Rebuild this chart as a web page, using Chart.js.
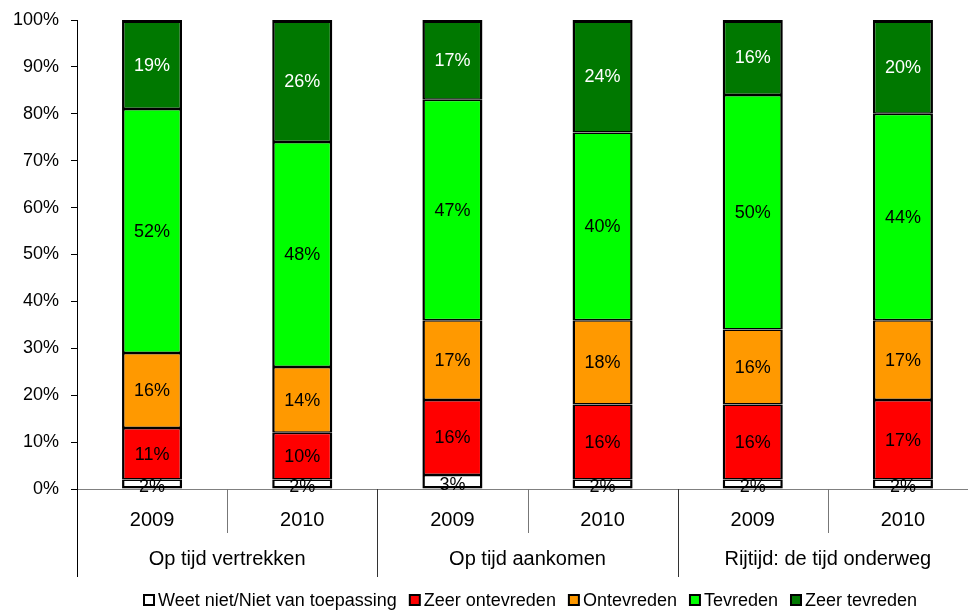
<!DOCTYPE html>
<html>
<head>
<meta charset="utf-8">
<script src="https://cdn.jsdelivr.net/npm/chart.js@4/dist/chart.umd.min.js"></script>
<style>
    html, body { margin: 0; padding: 0; overflow: hidden; background: #fff; }
    #wrap { width: 990px; height: 612px; }
</style>
</head>
<body>
<div id="wrap"><canvas id="grafico"></canvas></div>
<script>
// jaren per balk en de drie groepen eronder
const jaren = ['2009', '2010', '2009', '2010', '2009', '2010'];
const groepen = ['Op tijd vertrekken', 'Op tijd aankomen', 'Rijtijd: de tijd onderweg'];

// percentages per antwoordcategorie (van onder naar boven)
const weetNiet       = [2, 2, 3, 2, 2, 2];
const zeerOntevreden = [11, 10, 16, 16, 16, 17];
const ontevreden     = [16, 14, 17, 18, 16, 17];
const tevreden       = [52, 48, 47, 40, 50, 44];
const zeerTevreden   = [19, 26, 17, 24, 16, 20];

const yTicks = [0, 10, 20, 30, 40, 50, 60, 70, 80, 90, 100];

const FONT = '"Liberation Sans", Arial, sans-serif';

function serie(label, data, kleur, tekstKleur, rand) {
    return {
        label: label,
        data: data,
        backgroundColor: kleur,
        borderColor: '#000',
        borderWidth: rand,
        borderSkipped: false,
        barPercentage: 0.4,
        categoryPercentage: 1.0,
        labelColor: tekstKleur
    };
}

// percentages in de balken
const labelsPlugin = {
    id: 'balkLabels',
    afterDatasetsDraw(chart) {
        const ctx = chart.ctx;
        ctx.save();
        ctx.font = '18px ' + FONT;
        ctx.textAlign = 'center';
        ctx.textBaseline = 'middle';
        chart.data.datasets.forEach((ds, i) => {
            const meta = chart.getDatasetMeta(i);
            meta.data.forEach((el, j) => {
                ctx.fillStyle = ds.labelColor;
                const klein = Math.abs(el.base - el.y) < 20 ? 2 : 0;
                ctx.fillText(ds.data[j] + '%', el.x, (el.y + el.base) / 2 + 1 + klein);
            });
        });
        ctx.restore();
    }
};

// tweede as-niveau (groepen), scheidingslijnen en legenda
const asPlugin = {
    id: 'groepAs',
    afterDraw(chart) {
        const ctx = chart.ctx;
        const x = chart.scales.x;
        const area = chart.chartArea;
        ctx.save();

        // y-as loopt door tot onder de groepen
        ctx.strokeStyle = '#000';
        ctx.lineWidth = 1;
        ctx.beginPath();
        ctx.moveTo(area.left + 0.5, area.bottom);
        ctx.lineTo(area.left + 0.5, 577);
        ctx.stroke();

        for (let i = 0; i < jaren.length - 1; i++) {
            const xp = Math.round((x.getPixelForValue(i) + x.getPixelForValue(i + 1)) / 2) + 0.5;
            const lang = (i % 2 === 1);
            ctx.strokeStyle = lang ? '#333' : '#777';
            ctx.beginPath();
            ctx.moveTo(xp, area.bottom);
            ctx.lineTo(xp, lang ? 577 : 533);
            ctx.stroke();
        }

        ctx.fillStyle = '#000';
        ctx.font = '20px ' + FONT;
        ctx.textAlign = 'center';
        ctx.textBaseline = 'alphabetic';
        groepen.forEach((g, k) => {
            const cx = (x.getPixelForValue(2 * k) + x.getPixelForValue(2 * k + 1)) / 2;
            ctx.fillText(g, cx, 565);
        });

        // legenda
        let lx = 144;
        const ly = 600;
        ctx.textAlign = 'left';
        ctx.textBaseline = 'middle';
        ctx.font = '18px ' + FONT;
        chart.data.datasets.forEach(ds => {
            ctx.fillStyle = ds.backgroundColor;
            ctx.fillRect(lx, ly - 5, 10, 10);
            ctx.strokeStyle = '#000';
            ctx.lineWidth = 2;
            ctx.strokeRect(lx, ly - 5, 10, 10);
            ctx.fillStyle = '#000';
            ctx.fillText(ds.label, lx + 14, ly + 1);
            lx += 14 + ctx.measureText(ds.label).width + 13;
        });
        ctx.restore();
    }
};

const zij = 2.5;
const ctx = document.getElementById('grafico').getContext('2d');
new Chart(ctx, {
    type: 'bar',
    data: {
        labels: jaren,
        datasets: [
            serie('Weet niet/Niet van toepassing', weetNiet, '#ffffff', '#000', { top: 1.5, bottom: 2.5, left: zij, right: zij }),
            serie('Zeer ontevreden', zeerOntevreden, '#ff0000', '#000', { top: 1.5, bottom: 1.5, left: zij, right: zij }),
            serie('Ontevreden', ontevreden, '#ff9900', '#000', { top: 1.5, bottom: 1.5, left: zij, right: zij }),
            serie('Tevreden', tevreden, '#00ff00', '#000', { top: 1.5, bottom: 1.5, left: zij, right: zij }),
            serie('Zeer tevreden', zeerTevreden, '#007800', '#fff', { top: 3, bottom: 1.5, left: zij, right: zij })
        ]
    },
    plugins: [labelsPlugin, asPlugin],
    options: {
        responsive: true,
        maintainAspectRatio: false,
        animation: false,
        layout: { padding: { top: 20, left: 0, right: 12, bottom: 36 } },
        plugins: {
            legend: { display: false },
            tooltip: { enabled: false }
        },
        scales: {
            x: {
                stacked: true,
                grid: { display: false },
                border: { color: '#808080', width: 1 },
                ticks: { color: '#000', font: { family: FONT, size: 20 }, padding: 11 },
                afterFit: s => { s.height = 87; s.paddingLeft = 0; s.paddingRight = 0; }
            },
            y: {
                stacked: true,
                min: 0,
                max: 100,
                afterBuildTicks: s => { s.ticks = yTicks.map(v => ({ value: v })); },
                grid: { drawOnChartArea: false, color: '#000', tickLength: 6 },
                border: { color: '#000', width: 1 },
                ticks: {
                    color: '#000',
                    font: { family: FONT, size: 18 },
                    padding: 12,
                    callback: v => v + '%'
                },
                afterFit: s => { s.width = 77; s.paddingTop = 0; s.paddingBottom = 0; }
            }
        }
    }
});
</script>
</body>
</html>
